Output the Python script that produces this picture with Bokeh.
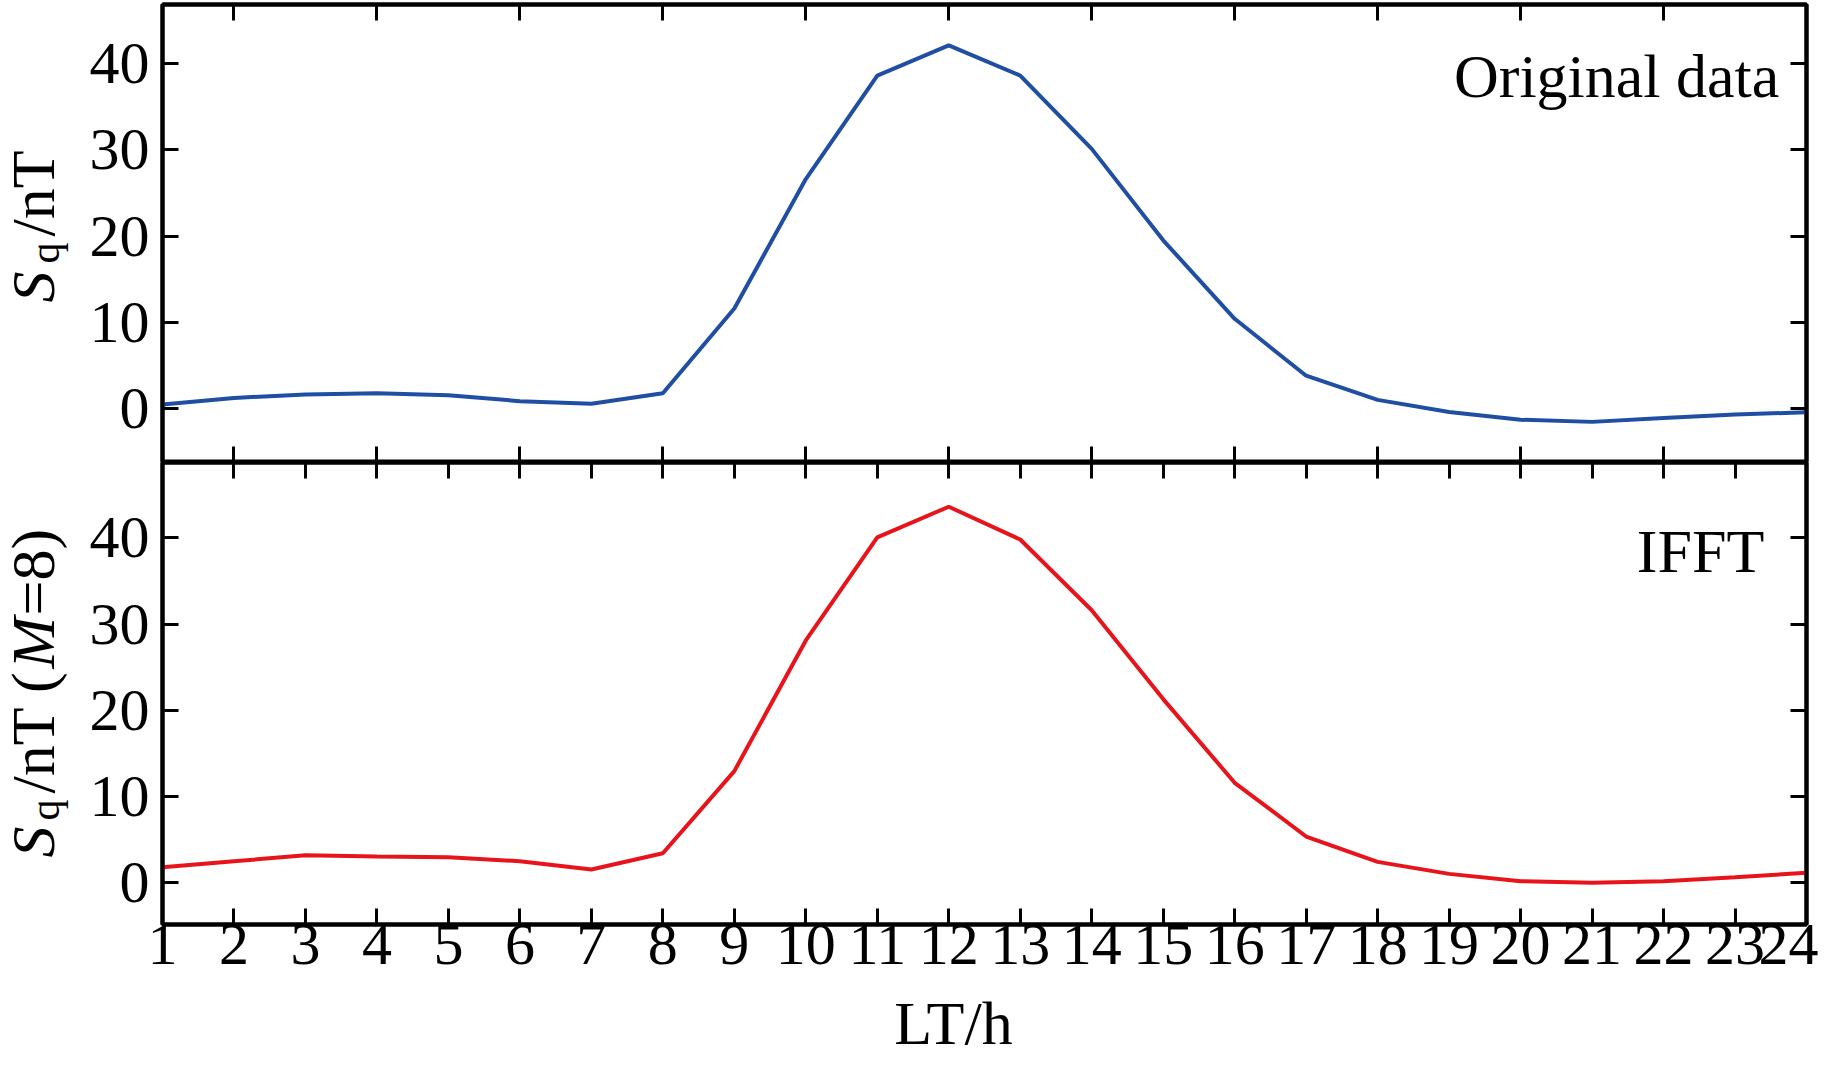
import math
from bokeh.plotting import figure
from bokeh.models import LinearAxis, Range1d, FixedTicker, Label, CustomJSTickFormatter
from bokeh.layouts import column, row
from bokeh.embed import file_html
from bokeh.resources import INLINE

# ---------------- data ----------------
hours = list(range(1, 25))
original = [0.46, 1.23, 1.62, 1.77, 1.54, 0.85, 0.54, 1.77, 11.6, 26.6, 38.6, 42.1,
            38.6, 30.1, 19.5, 10.4, 3.8, 1.0, -0.4, -1.3, -1.55, -1.1, -0.7, -0.43]
ifft = [1.81, 2.5, 3.2, 3.05, 2.97, 2.5, 1.54, 3.43, 12.95, 28.1, 40.06, 43.6,
        39.8, 31.6, 21.3, 11.6, 5.37, 2.43, 1.04, 0.19, 0.0, 0.19, 0.65, 1.16]
y_ticks = [0, 10, 20, 30, 40]
even_hours = [2, 4, 6, 8, 10, 12, 14, 16, 18, 20, 22]
x_tick_labels = {h: str(h) for h in hours}
top_text = "Original data"
bottom_text = "IFFT"
x_title = "LT/h"

# ---------------- style ----------------
FONT = "Liberation Serif"
FS = "60px"
FS_TXT = "62px"
BLUE = "#1f4ea3"
RED = "#e8141c"
LW_AX = 4
FRAME_W = 1644
YFIG_W = 86           # narrow figure holding the rotated y titles
FRAME_LEFT = 161      # page x of the plot frames
LEFT = FRAME_LEFT - YFIG_W
TOP_MARGIN = 4
TOP_H = 458
BOT_H = 462
TOTAL_FRAMES = TOP_MARGIN + TOP_H + BOT_H

blank = CustomJSTickFormatter(code="return ''")


def style_axis(ax, ticks, labels=False):
    ax.ticker = FixedTicker(ticks=ticks)
    ax.axis_line_width = LW_AX
    ax.axis_line_color = "black"
    ax.major_tick_line_width = 3
    ax.major_tick_line_color = "black"
    ax.major_tick_in = 16
    ax.major_tick_out = 0
    ax.minor_tick_line_color = None
    if labels:
        ax.major_label_text_font = FONT
        ax.major_label_text_font_size = FS
        ax.major_label_text_color = "black"
    else:
        ax.formatter = blank
        ax.major_label_text_font_size = "1px"
        ax.major_label_standoff = 0


def make_fig(frame_h, y0, y1, top_border, bottom_border):
    p = figure(frame_width=FRAME_W, frame_height=frame_h,
               x_range=Range1d(1, 24), y_range=Range1d(y0, y1),
               output_backend="svg", toolbar_location=None,
               x_axis_location=None, y_axis_location=None,
               min_border_left=LEFT, min_border_right=12,
               min_border_top=top_border, min_border_bottom=bottom_border)
    p.xgrid.visible = False
    p.ygrid.visible = False
    p.outline_line_color = "black"
    p.outline_line_width = LW_AX
    p.background_fill_color = "white"
    p.border_fill_color = "white"

    left = LinearAxis()
    style_axis(left, y_ticks, labels=True)
    left.major_label_standoff = 13
    p.add_layout(left, "left")

    right = LinearAxis()
    style_axis(right, y_ticks)
    p.add_layout(right, "right")
    return p


def lab(p, x, y, text, size=FS_TXT, style="normal", angle=0.0, align="left"):
    p.add_layout(Label(x=x, y=y, text=text, text_font=FONT, text_font_size=size,
                       text_font_style=style, angle=angle, text_align=align,
                       text_baseline="alphabetic", text_color="black"))


# ---------- top panel ----------
p1 = make_fig(TOP_H, -6.26, 46.84, TOP_MARGIN, 0)
ax_top = LinearAxis()
style_axis(ax_top, even_hours)
p1.add_layout(ax_top, "above")
ax_bot = LinearAxis()
style_axis(ax_bot, even_hours)
p1.add_layout(ax_bot, "below")
p1.line(hours, original, line_color=BLUE, line_width=4)
lab(p1, 23.62, 38.5, top_text, align="right")

# ---------- bottom panel ----------
p2 = make_fig(BOT_H, -4.83, 48.73, 0, 0)
ax_top2 = LinearAxis()
style_axis(ax_top2, hours)
p2.add_layout(ax_top2, "above")
ax_bot2 = LinearAxis()
style_axis(ax_bot2, hours, labels=True)
ax_bot2.major_label_overrides = x_tick_labels
ax_bot2.major_label_standoff = 0
# trailing no-break spaces shift the centred title slightly left, as in the reference
ax_bot2.axis_label = x_title + "\u00a0" * 4
ax_bot2.axis_label_text_font = FONT
ax_bot2.axis_label_text_font_size = FS_TXT
ax_bot2.axis_label_text_font_style = "normal"
ax_bot2.axis_label_text_color = "black"
ax_bot2.axis_label_standoff = 22
p2.add_layout(ax_bot2, "below")
p2.line(hours, ifft, line_color=RED, line_width=4)
lab(p2, 23.41, 38.45, bottom_text, align="right")

# ---------- y title figure (page coordinates) ----------
yfig = figure(frame_width=YFIG_W, frame_height=TOTAL_FRAMES,
              x_range=Range1d(0, YFIG_W), y_range=Range1d(TOTAL_FRAMES, 0),
              output_backend="svg", toolbar_location=None,
              x_axis_location=None, y_axis_location=None,
              min_border_left=0, min_border_right=0,
              min_border_top=0, min_border_bottom=0)
yfig.xgrid.visible = False
yfig.ygrid.visible = False
yfig.outline_line_color = None
yfig.background_fill_color = "white"
yfig.border_fill_color = "white"

A = math.pi / 2
BX = 32     # anchor x of the 62px pieces (baseline lands near x=53)
QX = 44     # anchor x of the subscript
# top title: S_q /nT
lab(yfig, BX, 302, "S", style="italic", angle=A)
lab(yfig, QX, 263, "q", size="42px", angle=A)
lab(yfig, BX, 236, "/nT", angle=A)
# bottom title: S_q /nT (M=8)
lab(yfig, BX, 857, "S", style="italic", angle=A)
lab(yfig, QX, 820, "q", size="42px", angle=A)
lab(yfig, BX, 793, "/nT (", angle=A)
lab(yfig, BX, 668, "M", style="italic", angle=A)
lab(yfig, BX, 615, "=8)", angle=A)

layout = row(yfig, column(p1, p2, spacing=0), spacing=0)
open("out.html", "w").write(file_html(layout, INLINE))
